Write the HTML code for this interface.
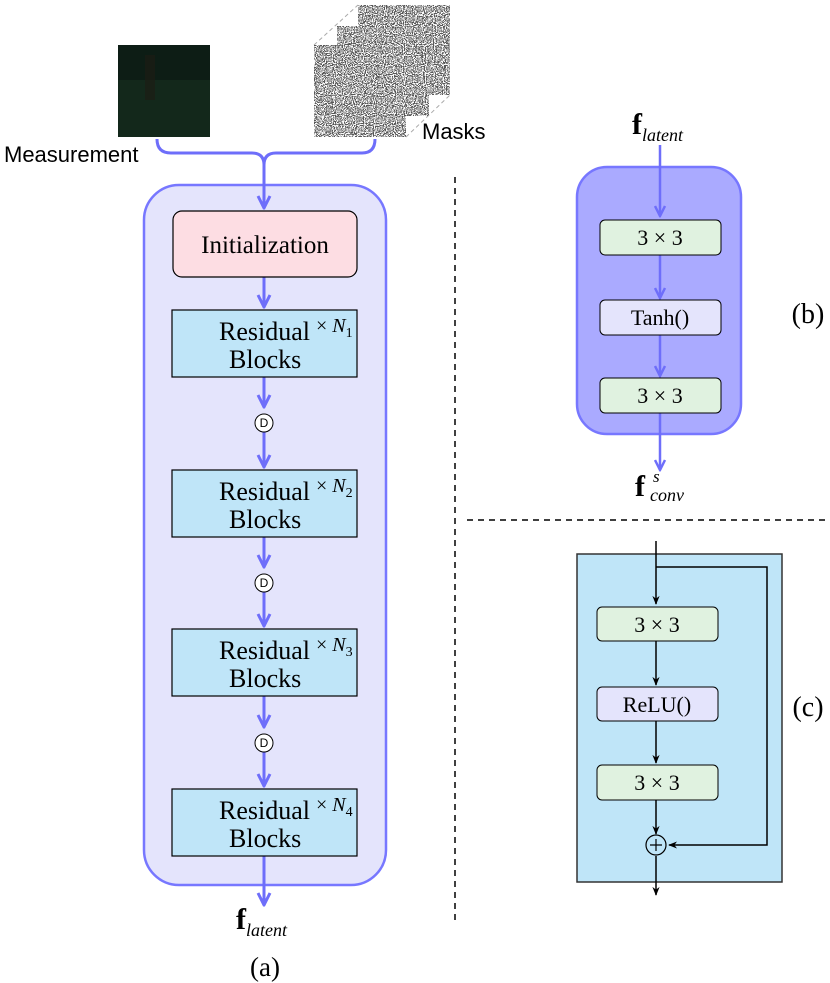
<!DOCTYPE html>
<html><head><meta charset="utf-8"><style>
html,body{margin:0;padding:0;background:#fff;}
svg{display:block;}
text{font-family:"Liberation Serif","DejaVu Serif",serif;}
</style></head><body>
<svg width="830" height="983" viewBox="0 0 830 983" xmlns="http://www.w3.org/2000/svg">
<defs>
<filter id="noise" x="0" y="0" width="100%" height="100%">
<feTurbulence type="fractalNoise" baseFrequency="0.9" numOctaves="1" seed="3"/>
<feColorMatrix type="saturate" values="0"/>
<feComponentTransfer><feFuncR type="discrete" tableValues="0.1 0.95"/><feFuncG type="discrete" tableValues="0.1 0.95"/><feFuncB type="discrete" tableValues="0.1 0.95"/><feFuncA type="linear" slope="0" intercept="1"/></feComponentTransfer>
</filter>
<marker id="ab" viewBox="0 0 10 10" refX="9" refY="5" markerWidth="5" markerHeight="5" orient="auto"><path d="M1,1 L9,5 L1,9" fill="none" stroke="#6e6efa" stroke-width="2"/></marker>
<marker id="ak" viewBox="0 0 10 10" refX="9" refY="5" markerWidth="6" markerHeight="6" orient="auto"><path d="M0,1 L10,5 L0,9 L3,5z" fill="#000"/></marker>
</defs>

<!-- images -->
<rect x="118" y="45" width="92" height="92" fill="#13281b"/>
<rect x="118" y="45" width="92" height="35" fill="#0d1d15"/>
<rect x="145" y="55" width="10" height="45" fill="#1d1d14" opacity="0.7"/>
<g stroke="#aaa" stroke-dasharray="4,3" fill="none" stroke-width="1">
<path d="M314,45 L358,5 M406,137 L450,95"/>
</g>
<rect x="358" y="5" width="92" height="90" filter="url(#noise)"/>
<rect x="337" y="26" width="92" height="90" filter="url(#noise)"/>
<rect x="314" y="45" width="92" height="92" filter="url(#noise)"/>
<text x="4" y="162" font-size="22" style="font-family:'Liberation Sans',sans-serif">Measurement</text>
<text x="422" y="139" font-size="22" style="font-family:'Liberation Sans',sans-serif">Masks</text>

<!-- brace -->
<path d="M157,139 Q157,153 171,153 L252,153 Q264,153 264,165 Q264,153 276,153 L362,153 Q375,153 375,139" fill="none" stroke="#6e6efa" stroke-width="3"/>

<!-- (a) -->
<rect x="144" y="185" width="242" height="700" rx="35" fill="#e4e4fc" stroke="#7777ff" stroke-width="2.5"/>
<g stroke="#6e6efa" stroke-width="3" marker-end="url(#ab)">
<line x1="264" y1="160" x2="264" y2="208"/>
<line x1="264" y1="277" x2="264" y2="307"/>
<line x1="264" y1="377" x2="264" y2="407"/>
<line x1="264" y1="432" x2="264" y2="467"/>
<line x1="264" y1="537" x2="264" y2="567"/>
<line x1="264" y1="592" x2="264" y2="626"/>
<line x1="264" y1="696" x2="264" y2="727"/>
<line x1="264" y1="752" x2="264" y2="786"/>
<line x1="264" y1="856" x2="264" y2="905"/>
</g>
<rect x="173" y="211" width="184" height="66" rx="9" fill="#fddde3" stroke="#000" stroke-width="1.2"/>
<text x="265" y="253" font-size="25" text-anchor="middle">Initialization</text>
<g font-size="26">
<g>
<rect x="172" y="310" width="185" height="67" fill="#bfe5f8" stroke="#000" stroke-width="1.2"/>
<text x="219" y="340">Residual</text><text x="229" y="368">Blocks</text>
<text x="316" y="332" font-size="20">× <tspan font-style="italic">N</tspan><tspan font-size="14" dy="5">1</tspan></text>
</g>
<g transform="translate(0,160)">
<rect x="172" y="310" width="185" height="67" fill="#bfe5f8" stroke="#000" stroke-width="1.2"/>
<text x="219" y="340">Residual</text><text x="229" y="368">Blocks</text>
<text x="316" y="332" font-size="20">× <tspan font-style="italic">N</tspan><tspan font-size="14" dy="5">2</tspan></text>
</g>
<g transform="translate(0,319)">
<rect x="172" y="310" width="185" height="67" fill="#bfe5f8" stroke="#000" stroke-width="1.2"/>
<text x="219" y="340">Residual</text><text x="229" y="368">Blocks</text>
<text x="316" y="332" font-size="20">× <tspan font-style="italic">N</tspan><tspan font-size="14" dy="5">3</tspan></text>
</g>
<g transform="translate(0,479)">
<rect x="172" y="310" width="185" height="67" fill="#bfe5f8" stroke="#000" stroke-width="1.2"/>
<text x="219" y="340">Residual</text><text x="229" y="368">Blocks</text>
<text x="316" y="332" font-size="20">× <tspan font-style="italic">N</tspan><tspan font-size="14" dy="5">4</tspan></text>
</g>
</g>
<g font-size="12" text-anchor="middle">
<circle cx="264" cy="423" r="9" fill="#fff" stroke="#000"/><text x="264" y="427" style="font-family:'Liberation Sans',sans-serif">D</text>
<circle cx="264" cy="583" r="9" fill="#fff" stroke="#000"/><text x="264" y="587" style="font-family:'Liberation Sans',sans-serif">D</text>
<circle cx="264" cy="743" r="9" fill="#fff" stroke="#000"/><text x="264" y="747" style="font-family:'Liberation Sans',sans-serif">D</text>
</g>
<text x="236" y="929" font-size="30" font-weight="bold">f<tspan font-size="18" font-weight="normal" font-style="italic" dy="7">latent</tspan></text>
<text x="265" y="976" font-size="27" text-anchor="middle">(a)</text>

<!-- dividers -->
<line x1="455" y1="177" x2="455" y2="925" stroke="#000" stroke-width="1.5" stroke-dasharray="6,5"/>
<line x1="467" y1="520" x2="830" y2="520" stroke="#000" stroke-width="1.5" stroke-dasharray="6,5"/>

<!-- (b) -->
<text x="632" y="134" font-size="30" font-weight="bold">f<tspan font-size="18" font-weight="normal" font-style="italic" dy="7">latent</tspan></text>
<rect x="577" y="167" width="164" height="267" rx="30" fill="#aaaaff" stroke="#7777ff" stroke-width="2.5"/>
<g stroke="#6e6efa" stroke-width="2.5" marker-end="url(#ab)">
<line x1="660" y1="145" x2="660" y2="216"/>
<line x1="660" y1="255" x2="660" y2="298"/>
<line x1="660" y1="335" x2="660" y2="376"/>
<line x1="660" y1="413" x2="660" y2="470"/>
</g>
<rect x="600" y="220" width="121" height="35" rx="5" fill="#e0f2e0" stroke="#000"/>
<text x="660" y="245" font-size="22" text-anchor="middle">3 × 3</text>
<rect x="600" y="300" width="121" height="35" rx="5" fill="#e4e4fc" stroke="#000"/>
<text x="660" y="325" font-size="22" text-anchor="middle">Tanh()</text>
<rect x="600" y="378" width="121" height="35" rx="5" fill="#e0f2e0" stroke="#000"/>
<text x="660" y="403" font-size="22" text-anchor="middle">3 × 3</text>
<text x="635" y="496" font-size="30" font-weight="bold">f</text>
<text x="653" y="482" font-size="17" font-style="italic">s</text>
<text x="650" y="501" font-size="18" font-style="italic">conv</text>
<text x="808" y="323" font-size="28" text-anchor="middle">(b)</text>

<!-- (c) -->
<rect x="577" y="554" width="205" height="328" fill="#bfe5f8" stroke="#333" stroke-width="1.5"/>
<g stroke="#000" stroke-width="1.5" fill="none">
<line x1="656" y1="541" x2="656" y2="604" marker-end="url(#ak)"/>
<path d="M656,567 L767,567 L767,845 L669,845" marker-end="url(#ak)"/>
<line x1="656" y1="641" x2="656" y2="685" marker-end="url(#ak)"/>
<line x1="656" y1="721" x2="656" y2="763" marker-end="url(#ak)"/>
<line x1="656" y1="800" x2="656" y2="834" marker-end="url(#ak)"/>
<line x1="656" y1="856" x2="656" y2="895" marker-end="url(#ak)"/>
</g>
<rect x="597" y="607" width="121" height="34" rx="5" fill="#e0f2e0" stroke="#000"/>
<text x="657" y="632" font-size="22" text-anchor="middle">3 × 3</text>
<rect x="597" y="687" width="121" height="34" rx="5" fill="#e4e4fc" stroke="#000"/>
<text x="657" y="712" font-size="22" text-anchor="middle">ReLU()</text>
<rect x="597" y="765" width="121" height="35" rx="5" fill="#e0f2e0" stroke="#000"/>
<text x="657" y="790" font-size="22" text-anchor="middle">3 × 3</text>
<circle cx="656" cy="845" r="10" fill="#bfe5f8" stroke="#000" stroke-width="1.2"/>
<path d="M650,845 H662 M656,839 V851" stroke="#000" stroke-width="1.2"/>
<text x="808" y="716" font-size="28" text-anchor="middle">(c)</text>
</svg>
</body></html>
